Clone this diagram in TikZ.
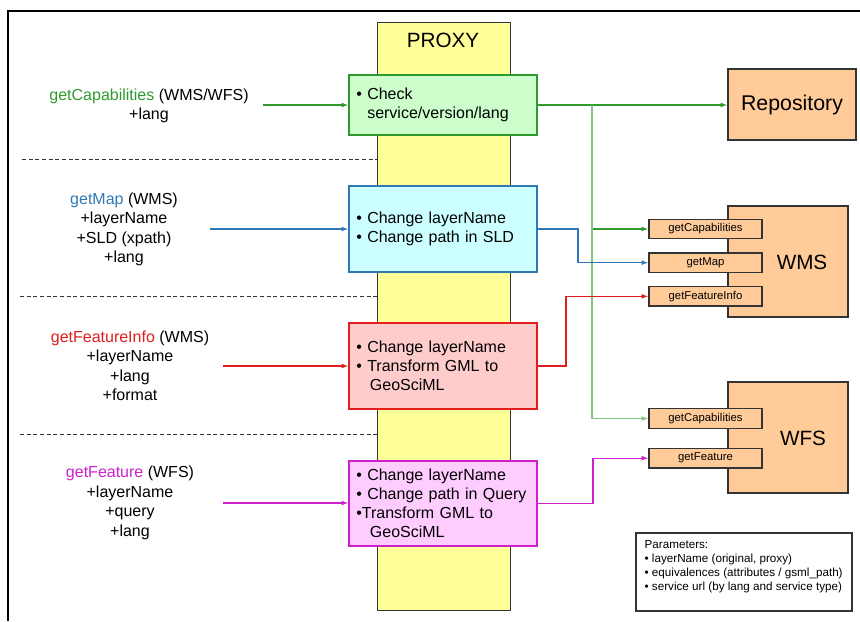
\documentclass[tikz,border=0pt]{standalone}
\usepackage{fontspec}
\setmainfont{Liberation Sans}
\usetikzlibrary{positioning,arrows.meta}
\definecolor{proxyyellow}{HTML}{FFFF99}
\definecolor{checkfill}{HTML}{CCFFCC}
\definecolor{mapfill}{HTML}{CCFFFF}
\definecolor{infofill}{HTML}{FFCCCC}
\definecolor{featfill}{HTML}{FFCCFF}
\definecolor{servicefill}{HTML}{FFCC99}
\definecolor{capgreen}{HTML}{2E9A2E}
\definecolor{mapblue}{HTML}{3078B4}
\definecolor{infored}{HTML}{E01E1E}
\definecolor{featmagenta}{HTML}{CC22CC}
\definecolor{edgegray}{HTML}{333333}

\begin{document}
\begin{tikzpicture}[
    x=0.75pt, y=-0.75pt,
    >={Latex[length=5pt,width=3.6pt]},
    every node/.style={font=\fontsize{12}{14.3}\selectfont, inner sep=0pt},
    stepbox/.style={
        draw,
        line width=0.9pt,
        minimum width=141pt,
        inner xsep=5.5pt,
        text width=130pt,
        align=left
    },
    reqlabel/.style={align=center, font=\fontsize{12}{14.6}\selectfont},
    reqarrow/.style={->, line width=0.9pt},
    service/.style={
        draw=edgegray,
        fill=servicefill,
        line width=0.9pt,
        minimum width=90pt,
        minimum height=83.25pt
    },
    opbox/.style={
        draw=edgegray,
        fill=servicefill,
        line width=0.9pt,
        minimum width=84.75pt,
        minimum height=14.6pt,
        font=\fontsize{8.5}{10}\selectfont
    },
    biglabel/.style={font=\fontsize{15.5}{18}\selectfont},
    separator/.style={dashed, dash pattern=on 3pt off 2pt, line width=0.6pt, edgegray}
]
\useasboundingbox (0,0) rectangle (860,621);
\draw[line width=1.5pt] (8,621) -- (8,11) -- (860,11);

\node[draw=edgegray, fill=proxyyellow, line width=0.75pt, minimum width=99.75pt, minimum height=441pt] (proxy) at (443.5,316) {};
\node[biglabel] (proxylabel) at (443,40) {PROXY};

\node[stepbox, draw=capgreen, fill=checkfill, minimum height=45pt] (check) at (443,105)
    {\textbullet\ Check\\\phantom{\textbullet\ }service/version/lang};
\node[stepbox, draw=mapblue, fill=mapfill, minimum height=64.5pt] (changemap) at (443,229)
    {\textbullet\ Change layerName\\\textbullet\ Change path in SLD};
\node[stepbox, draw=infored, fill=infofill, minimum height=64.5pt] (changeinfo) at (443,366)
    {\textbullet\ Change layerName\\\textbullet\ Transform GML to\\\phantom{\textbullet\ }\,GeoSciML};
\node[stepbox, draw=featmagenta, fill=featfill, minimum height=63.75pt] (changefeat) at (443,503.5)
    {\textbullet\ Change layerName\\\textbullet\ Change path in Query\\\textbullet Transform GML to\\\phantom{\textbullet\ }\,GeoSciML};

\node[reqlabel] (capreq) at (149,106) {\textcolor{capgreen}{getCapabilities} (WMS/WFS)\\+lang};
\node[reqlabel] (mapreq) at (124,229.5) {\textcolor{mapblue}{getMap} (WMS)\\+layerName\\+SLD (xpath)\\+lang};
\node[reqlabel] (inforeq) at (130,366) {\textcolor{infored}{getFeatureInfo} (WMS)\\+layerName\\+lang\\+format};
\node[reqlabel] (featreq) at (130,503) {\textcolor{featmagenta}{getFeature} (WFS)\\+layerName\\+query\\+lang};

\coordinate (capstart) at (263,105);
\coordinate (mapstart) at (210,229);
\coordinate (infostart) at (223,366);
\coordinate (featstart) at (223,503);
\draw[reqarrow, capgreen] (capstart) -- (capstart -| check.west);
\draw[reqarrow, mapblue] (mapstart) -- (mapstart -| changemap.west);
\draw[reqarrow, infored] (infostart) -- (infostart -| changeinfo.west);
\draw[reqarrow, featmagenta] (featstart) -- (featstart -| changefeat.west);

\coordinate (sep1) at (22,159);
\coordinate (sep2) at (20,296);
\coordinate (sep3) at (20,434);
\draw[separator] (sep1) -- (sep1 -| proxy.west);
\draw[separator] (sep2) -- (sep2 -| proxy.west);
\draw[separator] (sep3) -- (sep3 -| proxy.west);

\node[draw=edgegray, fill=servicefill, line width=0.9pt, minimum width=96pt, minimum height=53.25pt,
    font=\fontsize{16}{19}\selectfont] (repository) at (792,104.5) {Repository};

\node[service] (wms) at (788,261.5) {};
\node[biglabel] (wmslabel) at (802,262) {WMS};
\node[opbox] (wmscap) at (705.5,229) {getCapabilities};
\node[opbox, below=9.75pt of wmscap] (wmsmap) {getMap};
\node[opbox, below=9.75pt of wmsmap] (wmsinfo) {getFeatureInfo};

\node[service] (wfs) at (788,437.5) {};
\node[biglabel] (wfslabel) at (803,438) {WFS};
\node[opbox] (wfscap) at (705.5,418.5) {getCapabilities};
\node[opbox, below=14.25pt of wfscap] (wfsfeat) {getFeature};

\coordinate (capbus) at (592,105);
\coordinate (mapbus) at (578,0);
\coordinate (infobus) at (566,0);
\coordinate (featbus) at (593,0);
\draw[reqarrow, capgreen] (check.east) -- (check.east -| repository.west);
\draw[reqarrow, capgreen] (capbus) |- (wmscap.west);
\draw[reqarrow, capgreen!60] (capbus) |- (wfscap.west);
\draw[reqarrow, mapblue] (changemap.east) -- (changemap.east -| mapbus) |- (wmsmap.west);
\draw[reqarrow, infored] (changeinfo.east) -- (changeinfo.east -| infobus) |- (wmsinfo.west);
\draw[reqarrow, featmagenta] (changefeat.east) -- (changefeat.east -| featbus) |- (wfsfeat.west);

\node[draw=edgegray, line width=0.9pt, minimum width=162pt, minimum height=58.5pt] (params) at (744,572) {};
\node[anchor=north west, align=left, font=\fontsize{8.75}{10.5}\selectfont] (paramstext)
    at ([xshift=6.75pt, yshift=-6pt]params.north west)
    {Parameters:\\\textbullet\ layerName (original, proxy)\\\textbullet\ equivalences (attributes / gsml\_path)\\\textbullet\ service url (by lang and service type)};

\end{tikzpicture}
\end{document}
